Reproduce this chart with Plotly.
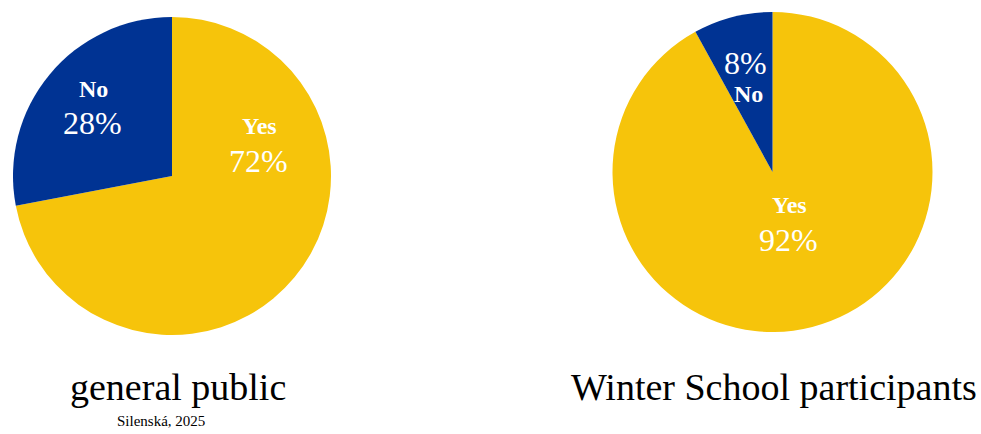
import plotly.graph_objects as go

# Survey answers for the two groups
answers = ["Yes", "No"]
public_pct = [72, 28]
school_pct = [92, 8]
group_names = ["general public", "Winter School participants"]
source_note = "Silenská, 2025"

YELLOW = "#F6C40B"
BLUE = "#003393"
W, H = 981, 434
SERIF = "Liberation Serif, Times New Roman, serif"


def px(x, y):
    return x / W, 1 - y / H


def pie_domain(cx, cy, r):
    x0, y1 = px(cx - r, cy - r)
    x1, y0 = px(cx + r, cy + r)
    return dict(x=[x0, x1], y=[y0, y1])


fig = go.Figure()
pies = [
    (public_pct, pie_domain(172, 176, 159)),
    (school_pct, pie_domain(772.5, 172, 160)),
]
for vals, dom in pies:
    fig.add_trace(go.Pie(
        labels=answers, values=vals, domain=dom,
        sort=False, direction="clockwise", rotation=0,
        marker=dict(colors=[YELLOW, BLUE], line=dict(width=0)),
        textinfo="none", hoverinfo="label+percent", showlegend=False,
    ))

# In-slice labels: (group index, answer index, word pos, percent pos, word first?)
label_spots = [
    (0, 0, (259, 126), (258, 161), True),
    (0, 1, (93, 89), (92, 123), True),
    (1, 0, (789, 205), (788, 240), True),
    (1, 1, (748, 94), (745, 63), False),
]
groups = [public_pct, school_pct]
annotations = []
for g, a, wpos, ppos, _ in label_spots:
    wx, wy = px(*wpos)
    annotations.append(dict(
        x=wx, y=wy, xref="paper", yref="paper", showarrow=False,
        text=f"<b>{answers[a]}</b>", xanchor="center", yanchor="middle",
        font=dict(family=SERIF, size=24, color="white"),
    ))
    qx, qy = px(*ppos)
    annotations.append(dict(
        x=qx, y=qy, xref="paper", yref="paper", showarrow=False,
        text=f"{groups[g][a]}%", xanchor="center", yanchor="middle",
        font=dict(family=SERIF, size=32, color="white"),
    ))

for name, (cx, cy) in zip(group_names, [(177.5, 387), (773.5, 387)]):
    x, y = px(cx, cy)
    annotations.append(dict(
        x=x, y=y, xref="paper", yref="paper", showarrow=False,
        text=name, xanchor="center", yanchor="middle",
        font=dict(family=SERIF, size=38, color="black"),
    ))

nx, ny = px(161, 421)
annotations.append(dict(
    x=nx, y=ny, xref="paper", yref="paper", showarrow=False,
    text=source_note, xanchor="center", yanchor="middle",
    font=dict(family=SERIF, size=15, color="black"),
))

fig.update_layout(
    width=W, height=H,
    margin=dict(l=0, r=0, t=0, b=0),
    paper_bgcolor="white", plot_bgcolor="white",
    annotations=annotations,
)

fig.write_html("out.html")
